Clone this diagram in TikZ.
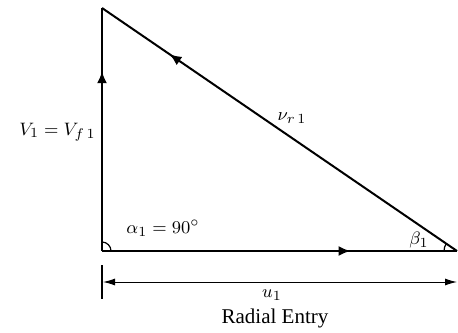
\documentclass[tikz,border=0pt]{standalone}
\usepackage{fontspec}
\setmainfont{Liberation Serif}
\usetikzlibrary{arrows.meta,decorations.markings,calc}

\tikzset{
    vec/.style={line width=1pt},
    midarrow/.style={postaction={decorate},
        decoration={markings, mark=at position #1 with {\arrow{Latex[length=6pt,width=5pt]}}}},
    lbl/.style={font=\fontsize{9.5}{11}\selectfont, inner sep=1pt},
    cap lbl/.style={font=\fontsize{10.5}{12}\selectfont, inner sep=1pt}
}

\begin{document}
\begin{tikzpicture}[x=0.5pt, y=0.5pt]
    \useasboundingbox (0,0) rectangle (458,332);

    % Corners of the triangle
    \coordinate (O) at (102,81);
    \coordinate (A) at (102,324);
    \coordinate (B) at (457,81);

    % Sides
    \draw[vec, midarrow=0.74] (O) -- (A);
    \draw[vec, midarrow=0.81] (B) -- (A);
    \draw[vec, midarrow=0.70] (O) -- (B);

    % Angle marks
    \draw[line width=0.6pt] ($(O)+(9,0)$) arc (0:90:9);
    \draw[line width=0.6pt] ($(B)+(-13,0)$) arc (180:145.6:13);

    % Dimension line
    \coordinate (T1) at (102,67);
    \coordinate (T2) at (102,33);
    \coordinate (DL) at (103,50);
    \coordinate (DR) at (457,50);
    \draw[line width=0.8pt] (T1) -- (T2);
    \draw[line width=0.5pt, {Latex[length=6pt,width=3.5pt]}-{Latex[length=6pt,width=3.5pt]}] (DL) -- (DR);

    % Labels
    \node[lbl, anchor=east] (vone) at (98,200) {$V_1 = V_{f\,1}$};
    \node[lbl] (vr) at (292,214) {$\nu_{r\,1}$};
    \node[lbl] (alpha) at (163,104) {$\alpha_1 = 90^\circ$};
    \node[lbl] (beta) at (419,92) {$\beta_1$};
    \node[lbl] (uone) at (272,37) {$u_1$};
    \node[cap lbl] (title) at (275,14) {Radial Entry};
\end{tikzpicture}
\end{document}
